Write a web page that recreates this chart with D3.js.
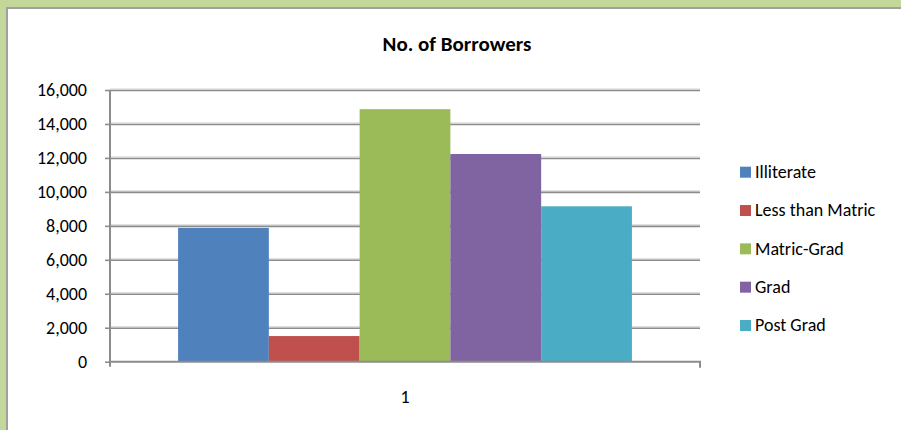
<!DOCTYPE html>
<html>
<head>
<meta charset="utf-8">
<script src="https://cdn.jsdelivr.net/npm/d3@7/dist/d3.min.js"></script>
<style>
  html, body { margin: 0; padding: 0; background: #ffffff; }
  svg { display: block; }
  text { font-family: Carlito, Calibri, "Open Sans", "Noto Sans", sans-serif; fill: #000; }
</style>
</head>
<body>
<svg id="chart" width="901" height="430"></svg>
<script>
// Chart data
const categories = ["1"];
const seriesNames = ["Illiterate", "Less than Matric", "Matric-Grad", "Grad", "Post Grad"];
const seriesValues = [7880, 1510, 14870, 12230, 9150];
const seriesColors = ["#4F81BD", "#C0504D", "#9BBB59", "#8064A2", "#4BACC6"];
const yTicks = [0, 2000, 4000, 6000, 8000, 10000, 12000, 14000, 16000];
const title = "No. of Borrowers";

const W = 901, H = 430;
const plot = { left: 110, right: 700, top: 90, bottom: 361.7 };
const FONT = "Carlito, Calibri, 'Open Sans', 'Noto Sans', sans-serif";

const svg = d3.select("#chart");

// Frame: green band along top and left, with a gray inner edge
svg.append("rect").attr("x", 0).attr("y", 0).attr("width", W).attr("height", H).attr("fill", "#C4D79B");
svg.append("rect").attr("x", 6).attr("y", 7).attr("width", W - 6).attr("height", H - 7).attr("fill", "#A0A0A0");
svg.append("rect").attr("x", 8).attr("y", 9).attr("width", W - 8).attr("height", H - 9).attr("fill", "#ffffff");

// Title
svg.append("text")
  .attr("x", 457).attr("y", 51)
  .attr("text-anchor", "middle")
  .style("font-size", "21px").style("font-weight", "bold")
  .text(title);

// Scales
const y = d3.scaleLinear().domain([0, 16000]).range([plot.bottom, plot.top]);
const x0 = d3.scaleBand().domain(categories).range([plot.left, plot.right]).padding(0);
const x1 = d3.scaleBand().domain(seriesNames).range([0, x0.bandwidth()])
  .paddingInner(0).paddingOuter(0.75);

// Gridlines (with a faint light edge above, as in the Office style)
const grid = svg.append("g");
yTicks.filter(t => t > 0).forEach(t => {
  grid.append("line")
    .attr("x1", plot.left).attr("x2", plot.right)
    .attr("y1", y(t) - 1).attr("y2", y(t) - 1)
    .attr("stroke", "#D4D4D4").attr("stroke-width", 1);
  grid.append("line")
    .attr("x1", plot.left).attr("x2", plot.right)
    .attr("y1", y(t) + 0.5).attr("y2", y(t) + 0.5)
    .attr("stroke", "#8C8C8C").attr("stroke-width", 1.6);
});

// Bars
const groups = svg.append("g").selectAll("g")
  .data(categories).join("g")
  .attr("transform", d => `translate(${x0(d)},0)`);

groups.selectAll("rect")
  .data(() => seriesNames.map((n, i) => ({ name: n, value: seriesValues[i], color: seriesColors[i] })))
  .join("rect")
  .attr("x", d => x1(d.name))
  .attr("width", x1.bandwidth())
  .attr("y", d => y(d.value))
  .attr("height", d => y(0) - y(d.value))
  .attr("fill", d => d.color);

// Y axis
const yAxis = d3.axisLeft(y).tickValues(yTicks).tickSize(5).tickPadding(18)
  .tickFormat(d3.format(","));
const yg = svg.append("g").attr("transform", `translate(${plot.left},0)`).call(yAxis);
yg.select(".domain").attr("d", `M0,${plot.top}V${plot.bottom + 5}`)
  .attr("stroke", "#8C8C8C").attr("stroke-width", 2).attr("fill", "none");
yg.selectAll(".tick line").attr("stroke", "#8C8C8C").attr("stroke-width", 1.6);
yg.selectAll(".tick text").style("font-size", "18px")
  .style("font-family", FONT).attr("fill", "#000");

// X axis
const xAxis = d3.axisBottom(x0).tickSize(0).tickPadding(29);
const xg = svg.append("g").attr("transform", `translate(0,${plot.bottom})`).call(xAxis);
xg.select(".domain").attr("d", `M${plot.left},0H${plot.right}V6`)
  .attr("stroke", "#8C8C8C").attr("stroke-width", 2).attr("fill", "none");
xg.selectAll(".tick text").style("font-size", "18px")
  .style("font-family", FONT).attr("fill", "#000");

// Legend
const legendY = d3.scalePoint().domain(seriesNames).range([171.7, 325]);
const legend = svg.append("g").selectAll("g")
  .data(seriesNames).join("g")
  .attr("transform", d => `translate(740,${legendY(d)})`);
legend.append("rect")
  .attr("x", 0).attr("y", -5).attr("width", 11).attr("height", 11)
  .attr("fill", (d, i) => seriesColors[i]);
legend.append("text")
  .attr("x", 15).attr("y", 0).attr("dy", "0.35em")
  .style("font-size", "18px")
  .text(d => d);
</script>
</body>
</html>
